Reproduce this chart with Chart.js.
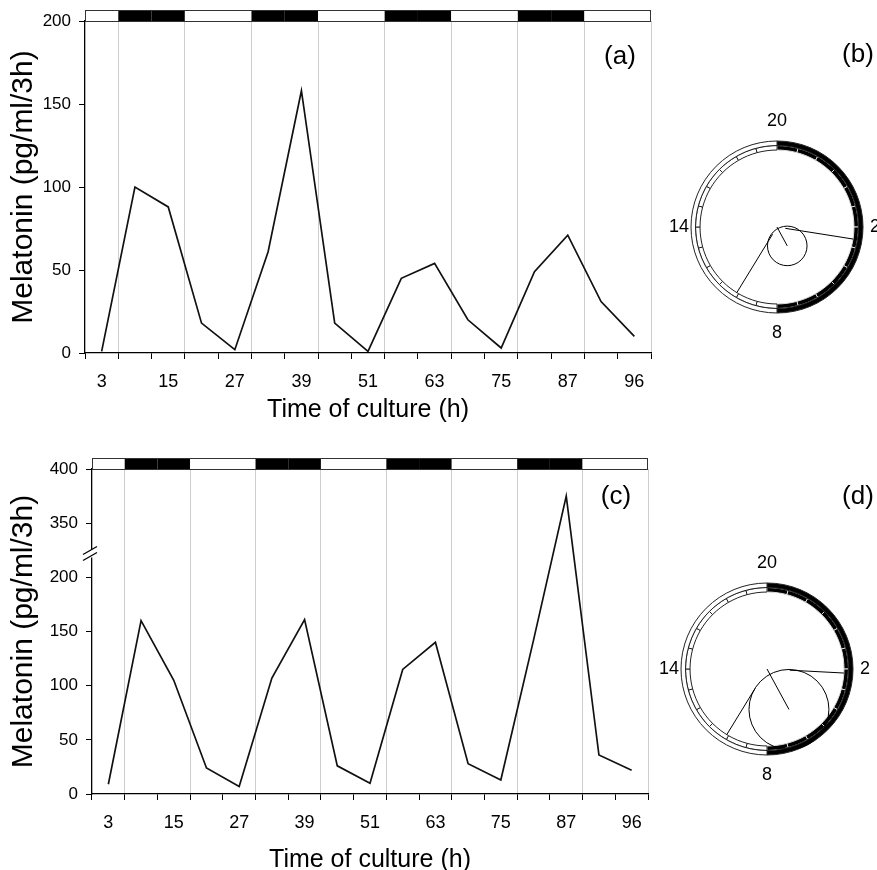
<!DOCTYPE html>
<html>
<head>
<meta charset="utf-8">
<script src="https://cdn.jsdelivr.net/npm/chart.js@4.4.1/dist/chart.umd.min.js"></script>
<style>
html,body{margin:0;padding:0;background:#fff;overflow:hidden;width:877px;height:870px;position:relative}
canvas{position:absolute}
</style>
</head>
<body>
<canvas id="chartA" width="660" height="425" style="left:0;top:0;width:660px;height:425px"></canvas>
<canvas id="chartC" width="660" height="435" style="left:0;top:440px;width:660px;height:435px"></canvas>
<canvas id="ringB" width="240" height="327" style="left:657px;top:20px;width:240px;height:327px"></canvas>
<canvas id="vecB" width="240" height="327" style="left:657px;top:20px;width:240px;height:327px"></canvas>
<canvas id="ringD" width="240" height="329" style="left:647px;top:460px;width:240px;height:329px"></canvas>
<canvas id="vecD" width="240" height="329" style="left:647px;top:460px;width:240px;height:329px"></canvas>
<script>
// ---------------- data ----------------
const timeLabels = ['3','9','15','21','27','33','39','45','51','57','63','69','75','81','87','93','96'];
const melatoninA = [1, 100, 88, 18, 2, 61, 158, 18, 1, 45, 54, 20, 3, 49, 71, 31, 10];
const melatoninC = [9, 160, 105, 24, 7, 107, 161, 26, 10, 115, 140, 28, 13, 142, 375, 36, 22];
const darkPhase = [0, 1, 1, 0, 0, 1, 1, 0, 0, 1, 1, 0, 0, 1, 1, 0, 0];
const yMaxA = 200;
const yMaxC = 400;
const axisBreakValue = 200;   // values above are shifted down on panel (c)
const axisBreakShift = 100;   // 350 is drawn where 250 would be
const clockHours = [20, 2, 8, 14];
const clockLabels = ['20', '2', '8', '14'];
const ringHours = [20,21,22,23,0,1,2,3,4,5,6,7,8,9,10,11,12,13,14,15,16,17,18,19];
const ringSpans = [1,1,1,1,1,1,1,1,1,1,1,1,1,1,1,1,1,1,1,1,1,1,1,1];
const phaseSpans = [12, 12];          // dark 20h-8h, light 8h-20h
const darkStartHour = 20;
const darkEndHour = 8;
const meanHour = [6.1, 6.1];
const meanLength = [0.25, 0.535];
const confRadius = [0.23, 0.465];
const ciStartHour = [2.6, 2.2];
const ciEndHour = [10.1, 10.1];
const panelLabels = ['(a)', '(b)', '(c)', '(d)'];

// ---------------- setup ----------------
Chart.defaults.font.family = "'Liberation Sans', Arial, Helvetica, sans-serif";
Chart.defaults.color = '#000';
Chart.defaults.animation = false;

const bandPlugin = {
  id: 'band',
  afterDraw(chart, args, o) {
    const {ctx, chartArea} = chart;
    const xs = chart.scales.x;
    const h = o.height;
    const top = chartArea.top - h;
    const half = (xs.getPixelForValue(1) - xs.getPixelForValue(0)) / 2;
    ctx.save();
    darkPhase.forEach((d, i) => {
      const c = xs.getPixelForValue(i);
      ctx.fillStyle = d ? '#000' : '#fff';
      ctx.fillRect(c - half, top, 2 * half, h);
    });
    ctx.strokeStyle = '#333';
    ctx.lineWidth = 1;
    ctx.strokeRect(chartArea.left + 0.5, top + 0.5, chartArea.width - 1, h);
    ctx.restore();
  }
};

const panelLabelPlugin = {
  id: 'panelLabel',
  afterDraw(chart, args, o) {
    const {ctx, chartArea} = chart;
    ctx.save();
    ctx.font = "26px 'Liberation Sans', Arial, sans-serif";
    ctx.fillStyle = '#000';
    ctx.textAlign = 'center';
    ctx.textBaseline = 'middle';
    ctx.fillText(o.text, chartArea.right + o.dx, chartArea.top + o.dy);
    ctx.restore();
  }
};

const breakPlugin = {
  id: 'axisBreak',
  afterDraw(chart, args, o) {
    if (!o.enabled) return;
    const {ctx} = chart;
    const ys = chart.scales.y;
    const x = chart.chartArea.left;
    const yc = ys.getPixelForValue(o.at);
    ctx.save();
    ctx.fillStyle = '#fff';
    ctx.fillRect(x - 2, yc - 4, 4, 8);
    ctx.strokeStyle = '#000';
    ctx.lineWidth = 1.3;
    ctx.beginPath();
    ctx.moveTo(x - 9, yc + 1); ctx.lineTo(x + 5, yc - 7);
    ctx.moveTo(x - 9, yc + 7); ctx.lineTo(x + 5, yc - 1);
    ctx.stroke();
    ctx.restore();
  }
};

function lineChart(id, values, yMax, geo, labelText, labelPos, breakOpts, tickCb) {
  return new Chart(document.getElementById(id), {
    type: 'line',
    data: {
      labels: timeLabels,
      datasets: [{
        data: values,
        borderColor: '#111',
        borderWidth: 1.7,
        pointRadius: 0,
        tension: 0,
        fill: false
      }]
    },
    options: {
      responsive: false,
      animation: false,
      events: [],
      layout: {padding: {top: geo.top, right: geo.right, left: 0, bottom: 0}},
      plugins: {
        legend: {display: false},
        tooltip: {enabled: false},
        band: {height: 11},
        panelLabel: {text: labelText, dx: labelPos[0], dy: labelPos[1]},
        axisBreak: breakOpts
      },
      scales: {
        x: {
          type: 'category',
          offset: true,
          afterFit: s => { s.height = geo.xHeight; },
          grid: {
            offset: true,
            drawOnChartArea: true,
            color: c => (c.index === undefined || c.index % 2 === 1) ? '#cdcdcd' : 'rgba(0,0,0,0)',
            tickColor: '#000',
            tickLength: 6,
            lineWidth: 1
          },
          border: {display: true, color: '#000', width: 1.3},
          ticks: {
            autoSkip: false,
            maxRotation: 0,
            padding: 12,
            font: {size: 18},
            callback: function (v, i) { return i % 2 === 0 ? this.getLabelForValue(v) : ''; }
          },
          title: {display: true, text: 'Time of culture (h)', font: {size: 25}, padding: {top: 0, bottom: 0}}
        },
        y: {
          min: 0,
          max: yMax,
          afterFit: s => { s.width = geo.yWidth; },
          grid: {drawOnChartArea: false, drawTicks: true, tickLength: 6, tickColor: '#000', color: '#000'},
          border: {display: true, color: '#000', width: 1.3},
          ticks: {stepSize: 50, padding: 8, font: {size: 17}, callback: tickCb},
          title: {display: true, text: 'Melatonin (pg/ml/3h)', font: {size: 30}, padding: {top: 6, bottom: 0}}
        }
      }
    },
    plugins: [bandPlugin, panelLabelPlugin, breakPlugin]
  });
}

lineChart('chartA', melatoninA, yMaxA,
  {top: 21, right: 9, yWidth: 85, xHeight: 72},
  panelLabels[0], [-31, 36], {enabled: false}, v => v);

const displayC = melatoninC.map(v => v > axisBreakValue ? v - axisBreakShift : v);
lineChart('chartC', displayC, yMaxC - axisBreakShift,
  {top: 29, right: 12, yWidth: 92, xHeight: 81},
  panelLabels[2], [-32, 28], {enabled: true, at: axisBreakValue + 22},
  v => v > axisBreakValue ? v + axisBreakShift : v);

// ---------------- circular panels ----------------
const isDark = h => h >= darkStartHour || h < darkEndHour;
const hourToXY = (h, r) => {
  const a = (h - darkStartHour) / 24 * 2 * Math.PI;
  return {x: r * Math.sin(a), y: r * Math.cos(a)};
};

const clockTextPlugin = {
  id: 'clockText',
  afterDraw(chart, args, o) {
    const arc = chart.getDatasetMeta(0).data[0];
    if (!arc) return;
    const {ctx} = chart;
    ctx.save();
    ctx.font = "18px 'Liberation Sans', Arial, sans-serif";
    ctx.fillStyle = '#000';
    ctx.textAlign = 'center';
    ctx.textBaseline = 'middle';
    clockHours.forEach((h, i) => {
      const p = hourToXY(h, 1);
      const r = Math.abs(p.y) > 0.5 ? o.vRadius : o.hRadius;
      ctx.fillText(clockLabels[i], arc.x + p.x * r, arc.y - p.y * r);
    });
    ctx.font = "26px 'Liberation Sans', Arial, sans-serif";
    ctx.fillText(o.panel, o.px, o.py);
    ctx.restore();
  }
};

function clockPanel(ringId, vecId, k, padTop, panelText, panelPos) {
  new Chart(document.getElementById(ringId), {
    type: 'doughnut',
    data: {
      labels: ringHours.map(String),
      datasets: [
        {
          // outer half of the ring: dark / light phases with outline
          data: phaseSpans,
          backgroundColor: ['#000', '#fff'],
          borderColor: ['#222', '#222'],
          borderWidth: 1,
          hoverOffset: 0,
          offset: 0
        },
        {
          // inner half of the ring: hourly tick marks
          data: ringSpans,
          backgroundColor: ringHours.map(h => isDark(h) ? '#000' : '#fff'),
          borderColor: ringHours.map(h => isDark(h) ? '#ddd' : '#222'),
          borderWidth: 1,
          hoverOffset: 0,
          offset: 0
        }
      ]
    },
    options: {
      responsive: false,
      animation: false,
      events: [],
      radius: 86,
      cutout: '89.5%',
      rotation: 0,
      layout: {padding: {top: padTop, left: 0, right: 0, bottom: 0}},
      plugins: {
        legend: {display: false},
        tooltip: {enabled: false},
        clockText: {vRadius: 106, hRadius: 98, panel: panelText, px: panelPos[0], py: panelPos[1]}
      }
    },
    plugins: [clockTextPlugin]
  });

  const L = meanLength[k], c = confRadius[k];
  const tangent = Math.sqrt(Math.max(L * L - c * c, 0));
  const ringInner = 0.895;
  const tip = hourToXY(meanHour[k], L);
  const lineDs = pts => ({data: pts, showLine: true, pointRadius: 0, borderColor: '#000', borderWidth: 1, clip: false});
  new Chart(document.getElementById(vecId), {
    type: 'scatter',
    data: {
      datasets: [
        lineDs([{x: 0, y: 0}, tip]),
        lineDs([hourToXY(ciStartHour[k], tangent), hourToXY(ciStartHour[k], ringInner)]),
        lineDs([hourToXY(ciEndHour[k], tangent), hourToXY(ciEndHour[k], ringInner)]),
        {
          data: [tip],
          showLine: false,
          clip: false,
          pointRadius: ctx => {
            const s = ctx.chart.scales.x;
            return Math.abs(s.getPixelForValue(c) - s.getPixelForValue(0));
          },
          pointBackgroundColor: 'rgba(0,0,0,0)',
          pointBorderColor: '#000',
          pointBorderWidth: 1
        }
      ]
    },
    options: {
      responsive: false,
      animation: false,
      events: [],
      layout: {padding: {top: padTop + 34, left: 34, right: 34, bottom: 34}},
      plugins: {legend: {display: false}, tooltip: {enabled: false}},
      scales: {
        x: {type: 'linear', min: -1, max: 1, display: false},
        y: {type: 'linear', min: -1, max: 1, display: false}
      }
    }
  });
}

clockPanel('ringB', 'vecB', 0, 87, panelLabels[1], [201, 35]);
clockPanel('ringD', 'vecD', 1, 89, panelLabels[3], [211, 37]);
</script>
</body>
</html>
